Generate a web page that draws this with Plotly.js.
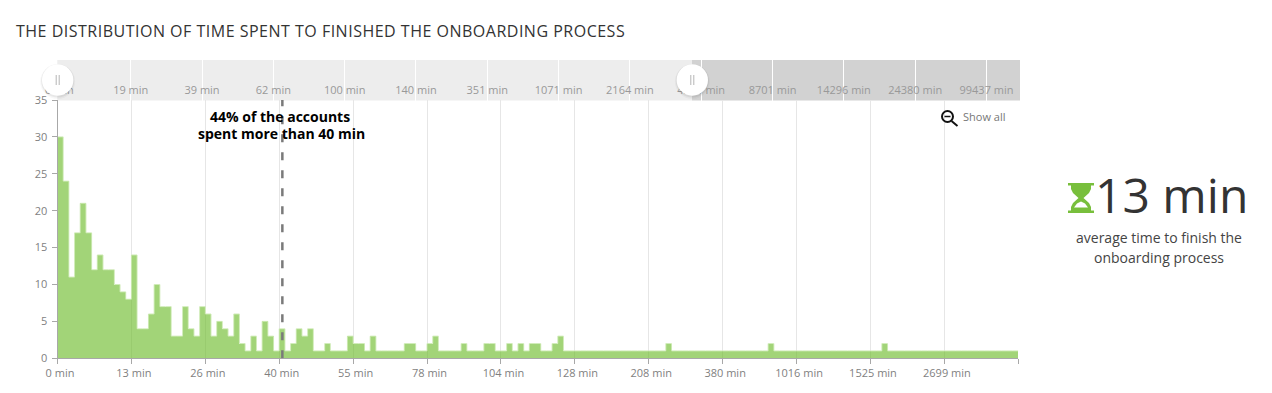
<!DOCTYPE html>
<html>
<head>
<meta charset="utf-8">
<script src="https://cdn.plot.ly/plotly-3.0.1.min.js"></script>
<style>
html,body{margin:0;padding:0;background:#fff}
#chart{width:1272px;height:393px}
.gtitle{letter-spacing:0.5px}
</style>
</head>
<body>
<div id="chart"></div>
<script>
const binCounts = [
  30,24,11,17,21,17,12,14,12,12, 10,9,8,14,4,4,6,10,7,7, 3,3,7,4,3,7,6,3,5,4, 3,6,2,1,3,1,5,3,1,4,
  1,2,4,3,4,1,1,2,1,1, 1,3,2,2,1,3,1,1,1,1, 1,2,2,1,1,2,3,1,1,1, 1,2,1,1,1,2,2,1,1,2,
  1,2,1,2,2,1,1,2,3,1, 1,1,1,1,1,1,1,1,1,1, 1,1,1,1,1,1,1,2,1,1, 1,1,1,1,1,1,1,1,1,1,
  1,1,1,1,1,2,1,1,1,1, 1,1,1,1,1,1,1,1,1,1, 1,1,1,1,1,2,1,1,1,1, 1,1,1,1,1,1,1,1,1,1, 1,1,1,1,1,1,1,1,1];
const tickBins = [0,13,26,39,52,65,78,91,104,117,130,143,156,169];
const tickLabels = ['0 min','13 min','26 min','40 min','55 min','78 min','104 min','128 min','208 min','380 min','1016 min','1525 min','2699 min',''];
const brushTicks = [0,1,2,3,4,5,6,7,8,9,10,11,12,13];
const brushLabels = ['0 min','19 min','39 min','62 min','100 min','140 min','351 min','1071 min','2164 min','4350 min','8701 min','14296 min','24380 min','99437 min'];
const yTicks = [0,5,10,15,20,25,30,35];
const markerBin = 39.55;

const W = 1272, H = 393, F = '"Open Sans", sans-serif';
const px = v => v / W, py = v => 1 - v / H;

const binCentres = binCounts.map((_, i) => i + 0.5);
const stepX = binCounts.map((_, i) => i).concat([binCounts.length]);
const stepY = binCounts.concat([binCounts[binCounts.length - 1]]);

const traces = [
  {type:'bar', x:binCentres, y:binCounts, width:1, marker:{color:'rgba(112,189,47,0.65)', line:{width:0}}, hoverinfo:'skip', showlegend:false},
  {type:'scatter', mode:'lines', x:stepX, y:stepY, line:{shape:'hv', color:'rgba(205,234,180,0.95)', width:1}, hoverinfo:'skip', showlegend:false},
  {type:'scatter', mode:'lines', x:[0,13.47], y:[0,0], xaxis:'x2', yaxis:'y2', line:{width:0}, hoverinfo:'skip', showlegend:false}
];

function circ(cx, cy, r, fill, line, lw) {
  return {type:'circle', xref:'paper', yref:'paper', layer:'above', x0:px(cx-r), x1:px(cx+r), y0:py(cy+r), y1:py(cy-r),
    fillcolor:fill, line:{color:line||'rgba(0,0,0,0)', width:lw||0}};
}
function seg(x0, y0, x1, y1, color, w) {
  return {type:'line', xref:'paper', yref:'paper', layer:'above', x0:px(x0), x1:px(x1), y0:py(y0), y1:py(y1), line:{color:color, width:w}};
}
function handle(cx) {
  const cy = 80;
  return [circ(cx,cy+1.5,17.5,'rgba(0,0,0,0.03)'), circ(cx,cy+1,16.5,'rgba(0,0,0,0.06)'), circ(cx,cy,15.7,'#ffffff'),
    seg(cx-1.5,cy-5,cx-1.5,cy+5,'#b5b5b5',1), seg(cx+1.5,cy-5,cx+1.5,cy+5,'#b5b5b5',1)];
}
function poly(pts, fill) {
  const path = 'M' + pts.map(p => px(p[0]) + ',' + py(p[1])).join('L') + 'Z';
  return {type:'path', xref:'paper', yref:'paper', layer:'above', path:path, fillcolor:fill, line:{width:0}};
}
const G = '#78bf3c';
const hourglass = [
  poly([[1068,183],[1094,183],[1094,185.5],[1068,185.5]], G),
  poly([[1068,210.5],[1094,210.5],[1094,213],[1068,213]], G),
  poly([[1071,185],[1091,185],[1091,189],[1089,193],[1083.5,198],[1089,203],[1091,207],[1091,211],[1071,211],[1071,207],[1073,203],[1078.5,198],[1073,193],[1071,189]], G),
  poly([[1081,201.5],[1085,203.5],[1088,207.5],[1074,207.5],[1077,203.5]], '#ffffff')
];

const shapes = [
  {type:'rect', xref:'paper', yref:'paper', layer:'below', x0:px(57.3), x1:px(692), y0:py(100.5), y1:py(60), fillcolor:'#ededed', line:{width:0}},
  {type:'rect', xref:'paper', yref:'paper', layer:'below', x0:px(692), x1:px(1020), y0:py(100.5), y1:py(60), fillcolor:'#d2d2d2', line:{width:0}},
  {type:'line', xref:'x', yref:'y', layer:'above', x0:markerBin, x1:markerBin, y0:0, y1:35, line:{color:'#7a7a7a', width:2.5, dash:'8px,10px'}},
  circ(947.5,116.5,5.5,'rgba(0,0,0,0)','#111111',2),
  seg(944.5,116.5,950.5,116.5,'#111111',1.5),
  seg(951.5,121,957.5,126,'#111111',2)
].concat(handle(57.7), handle(692.3), hourglass);

const axisFont = {family:F, size:11, color:'#7f7f7f'};

const layout = {
  width:W, height:H, margin:{l:0,r:0,t:0,b:0}, paper_bgcolor:'#fff', plot_bgcolor:'rgba(0,0,0,0)',
  showlegend:false, bargap:0, hovermode:false,
  title:{text:'THE DISTRIBUTION OF TIME SPENT TO FINISHED THE ONBOARDING PROCESS', xref:'paper', yref:'paper', x:px(16), xanchor:'left', y:py(31), yanchor:'middle',
    font:{family:F, size:16, color:'#333333'}},
  xaxis:{domain:[px(57.5),px(1018.3)], range:[0,169], tickmode:'array', tickvals:tickBins, ticktext:tickLabels, tickfont:axisFont,
    showgrid:true, gridcolor:'#e6e6e6', gridwidth:1, zeroline:false, ticks:'outside', ticklen:5, tickcolor:'#a8a8a8', tickwidth:1,
    showline:true, linecolor:'#a8a8a8', linewidth:1, anchor:'y'},
  yaxis:{domain:[py(358.3),py(100)], range:[0,35], tickmode:'array', tickvals:yTicks, tickfont:axisFont, ticklabelstandoff:2,
    showgrid:false, zeroline:false, ticks:'outside', ticklen:5, tickcolor:'#a8a8a8', tickwidth:1, showline:true, linecolor:'#a8a8a8', linewidth:1, anchor:'x'},
  xaxis2:{domain:[px(59.4),px(1020)], range:[0,13.47], tickmode:'array', tickvals:brushTicks, ticktext:brushLabels, tickfont:{family:F, size:11, color:'#999999'},
    showgrid:true, gridcolor:'#ffffff', gridwidth:1, zeroline:false, ticks:'', showline:false, anchor:'free', position:py(82)},
  yaxis2:{domain:[py(100.5),py(60)], range:[0,1], visible:false, anchor:'x2', fixedrange:true},
  shapes:shapes,
  annotations:[
    {xref:'paper', yref:'paper', x:px(280), y:py(117), xanchor:'center', yanchor:'middle', showarrow:false,
      text:'<b>44% of the accounts</b>', font:{family:F, size:14, color:'#000000'}},
    {xref:'paper', yref:'paper', x:px(281.5), y:py(133), xanchor:'center', yanchor:'middle', showarrow:false,
      text:'<b>spent more than 40 min</b>', font:{family:F, size:14, color:'#000000'}},
    {xref:'paper', yref:'paper', x:px(961), y:py(117), xanchor:'left', yanchor:'middle', showarrow:false, text:'Show all', font:{family:F, size:11, color:'#777777'}},
    {xref:'paper', yref:'paper', x:px(1171), y:py(194), xanchor:'center', yanchor:'middle', showarrow:false, text:'13 min', font:{family:F, size:48, color:'#333333'}},
    {xref:'paper', yref:'paper', x:px(1159), y:py(237.5), xanchor:'center', yanchor:'middle', showarrow:false,
      text:'average time to finish the', font:{family:F, size:14, color:'#444444'}},
    {xref:'paper', yref:'paper', x:px(1159), y:py(257.5), xanchor:'center', yanchor:'middle', showarrow:false,
      text:'onboarding process', font:{family:F, size:14, color:'#444444'}}
  ]
};

Plotly.newPlot('chart', traces, layout, {displayModeBar:false, staticPlot:true}).then(() => {
  document.querySelectorAll('.xtick text').forEach(t => {
    t.setAttribute('transform', 'translate(2.5,-1) ' + (t.getAttribute('transform') || ''));
  });
});
</script>
</body>
</html>
